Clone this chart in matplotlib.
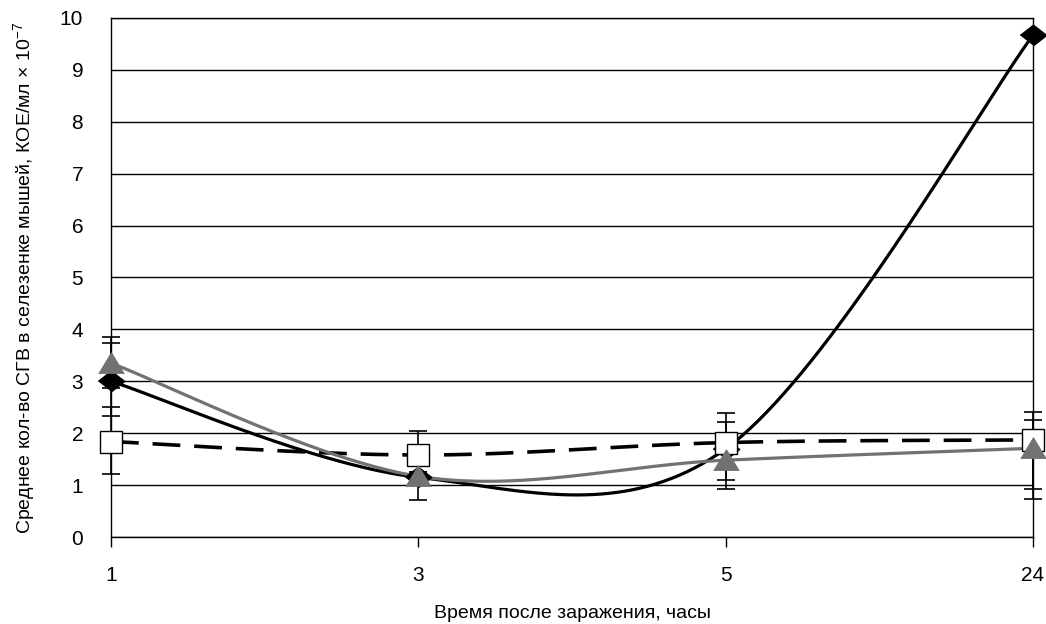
import matplotlib
matplotlib.use("Agg")
import matplotlib.pyplot as plt
import numpy as np

plt.rcParams['font.family'] = ['Liberation Sans', 'DejaVu Sans']
plt.rcParams['mathtext.fontset'] = 'custom'
plt.rcParams['mathtext.rm'] = 'Liberation Sans'
plt.rcParams['lines.scale_dashes'] = False

# categories (hours after infection)
hours = ['1', '3', '5', '24']

# mean CFU/ml x 10^-7 for each group
diamond_vals = [3.0, 1.15, 1.70, 9.67]
square_vals = [1.84, 1.58, 1.82, 1.87]
triangle_vals = [3.35, 1.17, 1.48, 1.71]

# error bars (lower, upper)
diamond_lo = [0.67, 0.1, 0.6, 0.0]
diamond_hi = [0.74, 0.1, 0.52, 0.0]
square_lo = [0.63, 0.33, 0.45, 0.95]
square_hi = [0.66, 0.46, 0.57, 0.54]
triangle_lo = [0.47, 0.46, 0.56, 0.98]
triangle_hi = [0.50, 0.3, 0.5, 0.54]


def smooth(xs, ys, n=80):
    # excel-like smoothed line (catmull-rom bezier, ends repeated)
    pts = np.column_stack([xs, ys]).astype(float)
    ext = np.vstack([pts[0], pts, pts[-1]])
    out = []
    for i in range(len(pts) - 1):
        p0, p1, p2, p3 = ext[i], ext[i + 1], ext[i + 2], ext[i + 3]
        c1 = p1 + (p2 - p0) / 6
        c2 = p2 - (p3 - p1) / 6
        t = np.linspace(0, 1, n)[:, None]
        seg = (1 - t) ** 3 * p1 + 3 * (1 - t) ** 2 * t * c1 + 3 * (1 - t) * t ** 2 * c2 + t ** 3 * p2
        out.append(seg if i == 0 else seg[1:])
    out = np.vstack(out)
    return out[:, 0], out[:, 1]


fig = plt.figure(figsize=(10.46, 6.24), dpi=100)
ax = fig.add_axes([0.1061, 0.1394, 0.9876 - 0.1061, 0.9712 - 0.1394])

x = np.arange(len(hours))

diamond_m = [(-1.28, 0), (0, 1), (1.28, 0), (0, -1)]
tri_m = [(-1.2, -1), (0, 1), (1.2, -1)]

gray = '#727272'

for vals, lo, hi in [(diamond_vals, diamond_lo, diamond_hi),
                     (square_vals, square_lo, square_hi),
                     (triangle_vals, triangle_lo, triangle_hi)]:
    eb = ax.errorbar(x, vals, yerr=[lo, hi], fmt='none', ecolor='black',
                     elinewidth=1.2, capsize=6.5, capthick=1.2, zorder=3)
    for art in list(eb.lines[1]) + list(eb.lines[2]):
        art.set_clip_on(False)

sx, sy = smooth(x, diamond_vals)
ax.plot(sx, sy, color='black', lw=2.3, zorder=4, clip_on=False)
sx, sy = smooth(x, square_vals)
ax.plot(sx, sy, color='black', lw=2.6, zorder=4, clip_on=False, dashes=(20, 10))
sx, sy = smooth(x, triangle_vals)
ax.plot(sx, sy, color=gray, lw=2.3, zorder=4, clip_on=False)

ax.plot(x, diamond_vals, ls='none', marker=diamond_m, ms=19, mfc='black', mec='black',
        zorder=5, clip_on=False)
ax.plot(x, square_vals, ls='none', marker='s', ms=15.5, mfc='white', mec='black', mew=1,
        zorder=6, clip_on=False)
ax.plot(x, triangle_vals, ls='none', marker=tri_m, ms=18, mfc=gray, mec=gray,
        zorder=7, clip_on=False)

ax.set_xlim(0, 3)
ax.set_ylim(0, 10)
ax.set_xticks(x)
ax.set_xticklabels(hours)
ax.set_yticks(range(0, 11))
ax.yaxis.grid(True, color='black', lw=1)
ax.set_axisbelow(True)
ax.tick_params(axis='y', length=0, pad=20, labelsize=15)
ax.tick_params(axis='x', length=7, width=1, direction='out', pad=14, labelsize=15)
for s in ax.spines.values():
    s.set_linewidth(1)

ax.set_xlabel('Время после заражения, часы', fontsize=14, labelpad=14)
ax.set_ylabel('Среднее кол-во СГВ в селезенке мышей, КОЕ/мл × 10$^{-7}$', fontsize=14,
              labelpad=16)

fig.savefig('out.png', dpi=100)
